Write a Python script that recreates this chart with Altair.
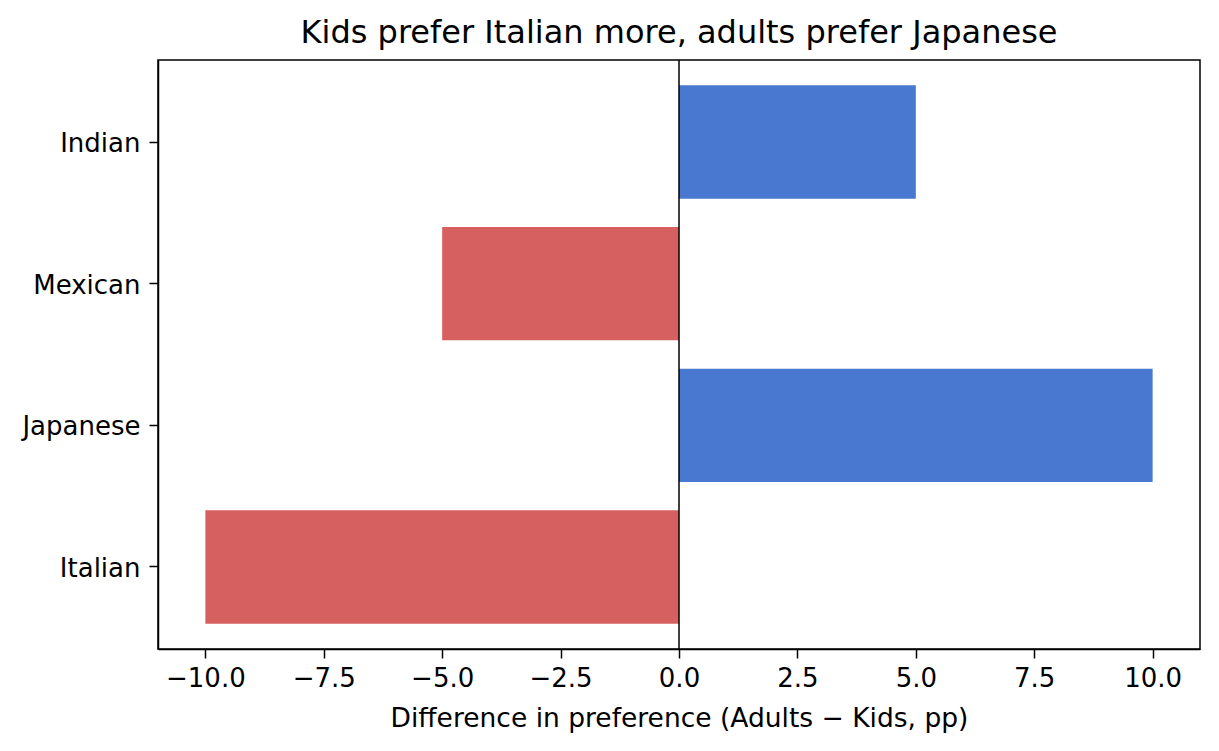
import altair as alt
import pandas as pd

cuisines = ["Indian", "Mexican", "Japanese", "Italian"]
differences = [5.0, -5.0, 10.0, -10.0]
x_ticks = [-10.0, -7.5, -5.0, -2.5, 0.0, 2.5, 5.0, 7.5, 10.0]
zero_line = [0.0]

df = pd.DataFrame({"cuisine": cuisines, "diff": differences})
df["sign"] = ["pos" if v > 0 else "neg" for v in differences]
zero_df = pd.DataFrame({"x": zero_line})

FONT = "DejaVu Sans"

x_scale = alt.Scale(domain=[-11, 11], nice=False, zero=False)
y_scale = alt.Scale(domain=cuisines, paddingInner=0.2, paddingOuter=0.179)

bars = alt.Chart(df).mark_bar().encode(
    x=alt.X("diff:Q", scale=x_scale,
            axis=alt.Axis(values=x_ticks, format=".1f",
                          title="Difference in preference (Adults \u2212 Kids, pp)",
                          grid=False, tickColor="black", domainColor="black",
                          labelColor="black", titleColor="black",
                          labelFont=FONT, titleFont=FONT,
                          labelFontSize=26, titleFontSize=26.5,
                          titleFontWeight="normal", tickSize=9, tickWidth=1.5,
                          domainWidth=1.5, labelPadding=7, titlePadding=14,
                          labelFlush=False)),
    y=alt.Y("cuisine:N", scale=y_scale, sort=cuisines,
            axis=alt.Axis(title=None, grid=False, tickColor="black",
                          domainColor="black", labelColor="black",
                          labelFont=FONT, labelFontSize=26, tickSize=9,
                          tickWidth=1.5, domainWidth=1.5, labelPadding=9,
                          labelOffset=2)),
    color=alt.Color("sign:N",
                    scale=alt.Scale(domain=["pos", "neg"], range=["#4878CF", "#D65F5F"]),
                    legend=None),
)

rule = alt.Chart(zero_df).mark_rule(color="black", strokeWidth=1.5).encode(
    x=alt.X("x:Q", scale=x_scale)
)

chart = alt.layer(bars, rule).properties(
    width=1042,
    height=589,
    background="white",
    title=alt.TitleParams("Kids prefer Italian more, adults prefer Japanese",
                          font=FONT, fontSize=32, fontWeight="normal",
                          color="black", offset=9),
    autosize=alt.AutoSizeParams(type="none"),
    padding={"left": 150, "top": 52, "right": 11, "bottom": 94},
).configure_view(stroke="black", strokeWidth=1.5)

chart.save("out.html", embed_options={"renderer": "svg", "actions": False})
